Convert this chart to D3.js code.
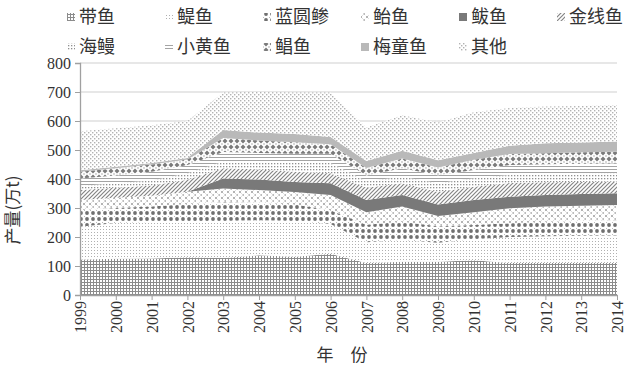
<!DOCTYPE html>
<html><head><meta charset="utf-8">
<script src="https://cdn.jsdelivr.net/npm/d3@7"></script>
<style>body{margin:0;background:#fff}</style>
</head><body><svg id="c" width="640" height="369"></svg>
<script>
const years = [1999,2000,2001,2002,2003,2004,2005,2006,2007,2008,2009,2010,2011,2012,2013,2014];
const seriesNames = ["带鱼","鳀鱼","蓝圆鲹","鲐鱼","鲅鱼","金线鱼","海鳗","小黄鱼","鲳鱼","梅童鱼","其他"];
const daiyu     = [122,125,126,130,128,137,132,142,110,115,115,120,110,110,110,110];
const tiyu      = [113,123,126,123,127,121,123,103, 72, 75, 65, 72, 90, 93, 94, 95];
const lanyuan   = [ 58, 52, 53, 61, 65, 60, 57, 47, 60, 63, 57, 49, 47, 50, 51, 52];
const taiyu     = [ 35, 35, 37, 42, 47, 44, 43, 53, 43, 52, 35, 44, 52, 52, 53, 53];
const bayu      = [  0,  0,  0,  0, 35, 36, 35, 40, 43, 40, 40, 43, 40, 40, 40, 41];
const jinxian   = [ 34, 35, 36, 41, 35, 35, 35, 35, 42, 40, 43, 45, 47, 44, 42, 40];
const haiman    = [ 14, 15, 17, 23, 23, 25, 30, 35, 22, 23, 30, 30, 28, 28, 28, 29];
const xiaohuang = [ 26, 27, 30, 28, 33, 32, 32, 32, 20, 29, 28, 28, 34, 34, 35, 34];
const changyu   = [ 23, 25, 25, 19, 48, 43, 40, 33, 26, 34, 27, 35, 38, 38, 39, 40];
const meitong   = [  5,  5,  5,  5, 28, 27, 28, 25, 24, 26, 25, 24, 29, 34, 34, 35];
const qita      = [135,133,130,128,129,140,143,153,116,123,130,140,130,127,126,126];
const yTicks = [0,100,200,300,400,500,600,700,800];

const seriesValues = [daiyu,tiyu,lanyuan,taiyu,bayu,jinxian,haiman,xiaohuang,changyu,meitong,qita];
const table = years.map((y,i)=>{const r={year:y}; seriesNames.forEach((n,k)=>r[n]=seriesValues[k][i]); return r;});

const svg = d3.select("#c");
const defs = svg.append("defs");
function pat(id,w,h,build){
  const p = defs.append("pattern").attr("id",id).attr("patternUnits","userSpaceOnUse").attr("width",w).attr("height",h);
  p.append("rect").attr("width",w).attr("height",h).attr("fill","#fff");
  build(p); return "url(#"+id+")";
}
const fills = [
  pat("p0",3,3,p=>{p.append("rect").attr("width",3).attr("height",1).attr("fill","#8c8c8c");p.append("rect").attr("width",1).attr("height",3).attr("fill","#8c8c8c");}),
  pat("p1",3,3,p=>{p.append("rect").attr("x",1).attr("y",1).attr("width",1).attr("height",1).attr("fill","#b0b0b0");}),
  pat("p2",6,6,p=>{p.append("circle").attr("cx",3).attr("cy",3).attr("r",1.9).attr("fill","#707070");p.append("rect").attr("x",0).attr("y",0).attr("width",1).attr("height",1).attr("fill","#bbb");}),
  pat("p3",6,6,p=>{p.append("path").attr("d","M0,6L6,0M0,0L6,6").attr("stroke","#b4b4b4").attr("stroke-width",1).attr("stroke-dasharray","2,1.5");}),
  "#797979",
  pat("p5",4,4,p=>{p.append("path").attr("d","M-1,1L1,-1M0,4L4,0M3,5L5,3").attr("stroke","#858585").attr("stroke-width",1.2);}),
  pat("p6",3,3,p=>{p.append("rect").attr("x",1).attr("y",1).attr("width",1.3).attr("height",1.3).attr("fill","#8f8f8f");}),
  pat("p7",3,3,p=>{p.append("rect").attr("x",0).attr("y",1).attr("width",3).attr("height",0.9).attr("fill","#9a9a9a");}),
  pat("p8",6,6,p=>{p.append("path").attr("d","M3,0.5L5.5,3L3,5.5L0.5,3Z").attr("fill","#7a7a7a");p.append("path").attr("d","M0,0L0.8,0L0,0.8Z M6,0L5.2,0L6,0.8Z M0,6L0.8,6L0,5.2Z M6,6L5.2,6L6,5.2Z").attr("fill","#7a7a7a");}),
  "#b9b9b9",
  pat("p10",4,4,p=>{p.append("rect").attr("x",0).attr("y",0).attr("width",1.4).attr("height",1.4).attr("fill","#b2b2b2");p.append("rect").attr("x",2).attr("y",2).attr("width",1.4).attr("height",1.4).attr("fill","#b2b2b2");})
];

const x0=80,x1=617,yTop=63,yBot=295;
const x = d3.scalePoint().domain(years).range([x0,x1]);
const y = d3.scaleLinear().domain([0,800]).range([yBot,yTop]);

svg.append("g").selectAll("line").data(yTicks.filter(d=>d>0)).join("line")
  .attr("x1",x0).attr("x2",x1).attr("y1",d=>y(d)).attr("y2",d=>y(d))
  .attr("stroke","#cfcfcf").attr("stroke-width",1.2);

const stack = d3.stack().keys(seriesNames)(table);
const area = d3.area().x(d=>x(d.data.year)).y0(d=>y(d[0])).y1(d=>y(d[1]));
svg.append("g").selectAll("path").data(stack).join("path")
  .attr("d",area).attr("fill",(d,i)=>fills[i]);

const ya = svg.append("g").attr("transform",`translate(${x0},0)`)
  .call(d3.axisLeft(y).tickValues(yTicks).tickSize(5).tickPadding(4));
ya.select(".domain").attr("stroke","#a0a0a0").attr("stroke-width",1.3);
ya.selectAll(".tick line").attr("stroke","#a0a0a0");
ya.selectAll("text").attr("font-family","Liberation Serif").attr("font-size",16).attr("fill","#333");

const xa = svg.append("g").attr("transform",`translate(0,${yBot})`)
  .call(d3.axisBottom(x).tickSize(5).tickSizeOuter(0));
xa.select(".domain").attr("stroke","#a0a0a0").attr("stroke-width",1.3);
xa.selectAll(".tick line").attr("stroke","#a0a0a0");
xa.selectAll("text").attr("font-family","Liberation Serif").attr("font-size",16).attr("fill","#333")
  .attr("transform","rotate(-90)").attr("text-anchor","end").attr("dy","0.35em").attr("x",-6).attr("y",0);

svg.append("text").attr("transform","translate(19,210) rotate(-90)").attr("text-anchor","middle")
  .attr("font-family","Noto Sans CJK SC").attr("font-size",17).attr("fill","#333").text("产量(万t)");
svg.append("text").attr("x",342).attr("y",361).attr("text-anchor","middle")
  .attr("font-family","Noto Sans CJK SC").attr("font-size",17).attr("fill","#333").text("年　份");

const leg = svg.append("g");
seriesNames.forEach((n,i)=>{
  const row = i<6?0:1, col = i<6?i:i-6;
  const lx = 67 + col*98, ly = row===0?17:47;
  const g = leg.append("g").attr("transform",`translate(${lx},${ly})`);
  g.append("rect").attr("x",0).attr("y",-4).attr("width",8).attr("height",8).attr("fill",fills[i]);
  g.append("text").attr("x",12).attr("y",0).attr("dy","0.35em").attr("font-family","Noto Sans CJK SC")
    .attr("font-size",18).attr("fill","#333").text(n);
});
</script></body></html>
